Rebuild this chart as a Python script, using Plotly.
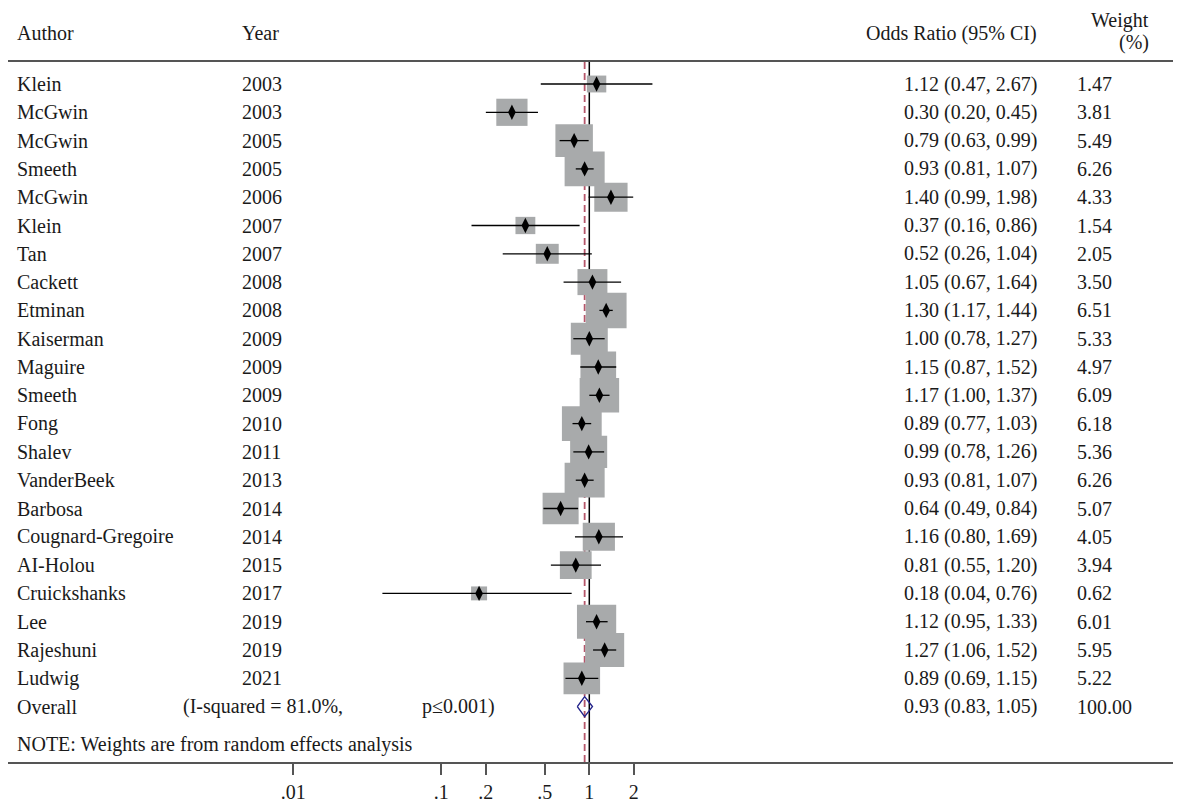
import math
import plotly.graph_objects as go

# ---------------- data ----------------
authors = ["Klein", "McGwin", "McGwin", "Smeeth", "McGwin", "Klein", "Tan", "Cackett",
           "Etminan", "Kaiserman", "Maguire", "Smeeth", "Fong", "Shalev", "VanderBeek",
           "Barbosa", "Cougnard-Gregoire", "AI-Holou", "Cruickshanks", "Lee", "Rajeshuni", "Ludwig"]
years = [2003, 2003, 2005, 2005, 2006, 2007, 2007, 2008, 2008, 2009, 2009, 2009, 2010,
         2011, 2013, 2014, 2014, 2015, 2017, 2019, 2019, 2021]
odds = [1.12, 0.30, 0.79, 0.93, 1.40, 0.37, 0.52, 1.05, 1.30, 1.00, 1.15, 1.17, 0.89,
        0.99, 0.93, 0.64, 1.16, 0.81, 0.18, 1.12, 1.27, 0.89]
ci_low = [0.47, 0.20, 0.63, 0.81, 0.99, 0.16, 0.26, 0.67, 1.17, 0.78, 0.87, 1.00, 0.77,
          0.78, 0.81, 0.49, 0.80, 0.55, 0.04, 0.95, 1.06, 0.69]
ci_high = [2.67, 0.45, 0.99, 1.07, 1.98, 0.86, 1.04, 1.64, 1.44, 1.27, 1.52, 1.37, 1.03,
           1.26, 1.07, 0.84, 1.69, 1.20, 0.76, 1.33, 1.52, 1.15]
weights = [1.47, 3.81, 5.49, 6.26, 4.33, 1.54, 2.05, 3.50, 6.51, 5.33, 4.97, 6.09, 6.18,
           5.36, 6.26, 5.07, 4.05, 3.94, 0.62, 6.01, 5.95, 5.22]
overall_or = 0.93
overall_low = 0.83
overall_high = 1.05
overall_weight = 100.00
i_squared = "81.0%"
p_text = "p≤0.001"
tick_vals = [0.01, 0.1, 0.2, 0.5, 1, 2]
tick_text = [".01", ".1", ".2", ".5", "1", "2"]

# ---------------- layout helpers (page pixel coordinates) ----------------
OFF = 8                      # default page body margin
W, H = 1183 - OFF, 803 - OFF
LEFT_PX, RIGHT_PX = 8, 1173  # plot area in page pixels
TOP_PX, BOT_PX = 61, 762
ML = LEFT_PX - OFF
MR = W - (RIGHT_PX - OFF)
MT = TOP_PX - OFF
MB = H - (BOT_PX - OFF)
PW = RIGHT_PX - LEFT_PX
PH = BOT_PX - TOP_PX
ROW0, ROWH = 84, 28.3        # page y of first row, row spacing
X1PX, DEC = 589.3, 148.0     # page x of OR=1, pixels per decade

def px(x):
    return (x - LEFT_PX) / PW

def py(y):
    return (BOT_PX - y) / PH

n = len(authors)
rows = list(range(n))
overall_row = n
note_row = (744 - ROW0) / ROWH

xr = [-(X1PX - LEFT_PX) / DEC, (RIGHT_PX - X1PX) / DEC]
yr = [(BOT_PX - ROW0) / ROWH, (TOP_PX - ROW0) / ROWH]

FONT = "Liberation Serif"
FS = 20
TXT = "#1a1a1a"
LINE_GRAY = "#555555"

fig = go.Figure()

shapes = []
# reference lines (drawn under boxes)
shapes.append(dict(type="line", xref="x", yref="paper", x0=1, x1=1, y0=0, y1=1,
                   line=dict(color="black", width=1.5), layer="below"))
shapes.append(dict(type="line", xref="x", yref="paper", x0=overall_or, x1=overall_or,
                   y0=0, y1=1, line=dict(color="#b5566a", width=1.8, dash="7px,4px"),
                   layer="below"))
# weight boxes (size in pixels converted to axis units)
for i in rows:
    w = 16 * math.sqrt(max(weights[i], 1.0))
    h = 0.87 * w
    f = 10 ** (w / 2 / DEC)
    shapes.append(dict(type="rect", xref="x", yref="y",
                       x0=odds[i] / f, x1=odds[i] * f,
                       y0=rows[i] - h / 2 / ROWH, y1=rows[i] + h / 2 / ROWH,
                       fillcolor="#a8aaab", line=dict(width=0), layer="below"))
# top horizontal rule
shapes.append(dict(type="line", xref="paper", yref="paper", x0=0, x1=1, y0=1, y1=1,
                   line=dict(color=LINE_GRAY, width=2)))

# CI lines + point markers
fig.add_trace(go.Scatter(
    x=odds, y=rows, mode="markers",
    marker=dict(symbol="diamond-tall", size=11, color="black"),
    error_x=dict(type="data", symmetric=False,
                 array=[h - o for h, o in zip(ci_high, odds)],
                 arrayminus=[o - l for o, l in zip(odds, ci_low)],
                 color="black", thickness=1.3, width=0),
    showlegend=False, hoverinfo="skip", cliponaxis=False))

# overall diamond
dh = 10 / ROWH
fig.add_trace(go.Scatter(
    x=[overall_low, overall_or, overall_high, overall_or, overall_low],
    y=[overall_row, overall_row - dh, overall_row, overall_row + dh, overall_row],
    mode="lines", line=dict(color="#23238a", width=1.4),
    showlegend=False, hoverinfo="skip"))

ann = []
def add_text(x, y, text, anchor="left", yref="y"):
    ann.append(dict(x=x, y=y, xref="paper", yref=yref, text=text, showarrow=False,
                    xanchor=anchor, yanchor="middle",
                    font=dict(family=FONT, size=FS, color=TXT)))

# header
add_text(px(15), py(33), "Author", yref="paper")
add_text(px(240), py(33), "Year", yref="paper")
add_text(px(1039), py(33), "Odds Ratio (95% CI)", "right", yref="paper")
add_text(px(1151), py(20), "Weight", "right", yref="paper")
add_text(px(1151), py(42), "(%)", "right", yref="paper")

for i in rows:
    add_text(px(15), rows[i], authors[i])
    add_text(px(240), rows[i], str(years[i]))
    add_text(px(1039), rows[i], f"{odds[i]:.2f} ({ci_low[i]:.2f}, {ci_high[i]:.2f})", "right")
    add_text(px(1075), rows[i], f"{weights[i]:.2f}")

add_text(px(15), overall_row, "Overall")
add_text(px(181), overall_row, f"(I-squared = {i_squared},")
add_text(px(420), overall_row, f"{p_text})")
add_text(px(1039), overall_row, f"{overall_or:.2f} ({overall_low:.2f}, {overall_high:.2f})", "right")
add_text(px(1075), overall_row, f"{overall_weight:.2f}")
add_text(px(15), note_row, "NOTE: Weights are from random effects analysis")

fig.update_layout(
    width=W, height=H,
    margin=dict(l=ML, r=MR, t=MT, b=MB, pad=0, autoexpand=False),
    paper_bgcolor="white", plot_bgcolor="white",
    shapes=shapes, annotations=ann,
    xaxis=dict(type="log", range=xr, tickvals=tick_vals, ticktext=tick_text,
               showgrid=False, zeroline=False, showline=True, linecolor=LINE_GRAY,
               linewidth=2, ticks="outside", ticklen=11, tickwidth=1.5, tickcolor=LINE_GRAY,
               automargin=False,
               tickfont=dict(family=FONT, size=FS, color=TXT), fixedrange=True),
    yaxis=dict(range=yr, showgrid=False, zeroline=False, showticklabels=False,
               showline=False, fixedrange=True, automargin=False),
    showlegend=False,
)

fig.write_html("out.html")
